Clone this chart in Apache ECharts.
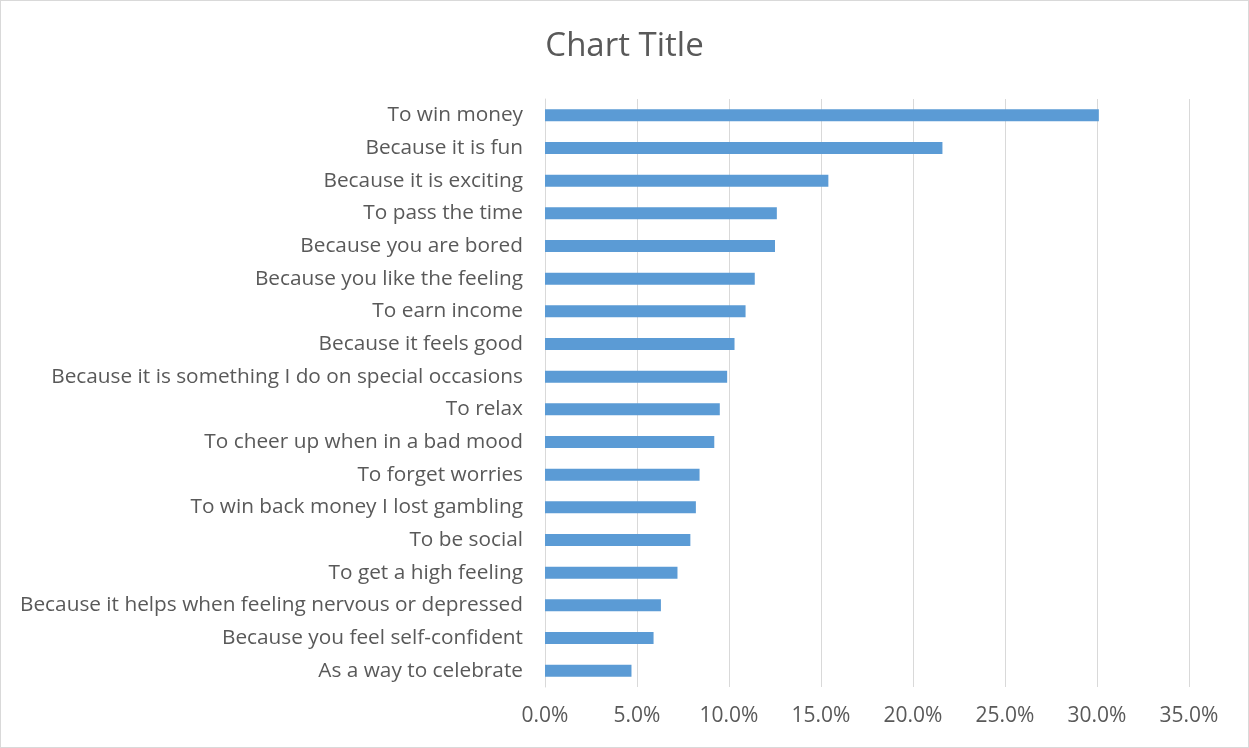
<!DOCTYPE html>
<html>
<head>
<meta charset="utf-8">
<script src="https://cdn.jsdelivr.net/npm/echarts@6/dist/echarts.min.js"></script>
<style>
html,body{margin:0;padding:0;background:#fff;}
#c{width:1249px;height:748px;box-sizing:border-box;border:1px solid #d9d9d9;}
</style>
</head>
<body>
<div id="c"></div>
<script>
const categories = [
  "To win money",
  "Because it is fun",
  "Because it is exciting",
  "To pass the time",
  "Because you are bored",
  "Because you like the feeling",
  "To earn income",
  "Because it feels good",
  "Because it is something I do on special occasions",
  "To relax",
  "To cheer up when in a bad mood",
  "To forget worries",
  "To win back money I lost gambling",
  "To be social",
  "To get a high feeling",
  "Because it helps when feeling nervous or depressed",
  "Because you feel self-confident",
  "As a way to celebrate"
];
const values = [30.1, 21.6, 15.4, 12.6, 12.5, 11.4, 10.9, 10.3, 9.9, 9.5, 9.2, 8.4, 8.2, 7.9, 7.2, 6.3, 5.9, 4.7];
const axisMin = 0, axisMax = 35, axisStep = 5;

const chart = echarts.init(document.getElementById('c'), null, {renderer: 'canvas'});
const font = '"Open Sans", "Noto Sans", sans-serif';
chart.setOption({
  animation: false,
  backgroundColor: '#fff',
  title: {
    text: 'Chart Title',
    left: 'center',
    top: 24,
    textStyle: {fontFamily: font, fontSize: 33, fontWeight: 'normal', color: '#595959'}
  },
  grid: {left: 544, right: 59, top: 98, bottom: 60, containLabel: false},
  xAxis: {
    type: 'value',
    min: axisMin, max: axisMax, interval: axisStep,
    axisLine: {show: false},
    axisTick: {show: false},
    splitLine: {show: true, lineStyle: {color: '#d9d9d9', width: 1}},
    axisLabel: {
      margin: 19,
      fontFamily: font, fontSize: 21, color: '#595959',
      formatter: v => v.toFixed(1) + '%'
    }
  },
  yAxis: {
    type: 'category',
    data: categories,
    inverse: true,
    axisLine: {show: true, lineStyle: {color: '#d9d9d9'}},
    axisTick: {show: false},
    axisLabel: {margin: 22, fontFamily: font, fontSize: 20.8, color: '#595959'}
  },
  series: [{
    type: 'bar',
    data: values,
    barWidth: 12,
    itemStyle: {color: '#5b9bd5'}
  }]
});
</script>
</body>
</html>
